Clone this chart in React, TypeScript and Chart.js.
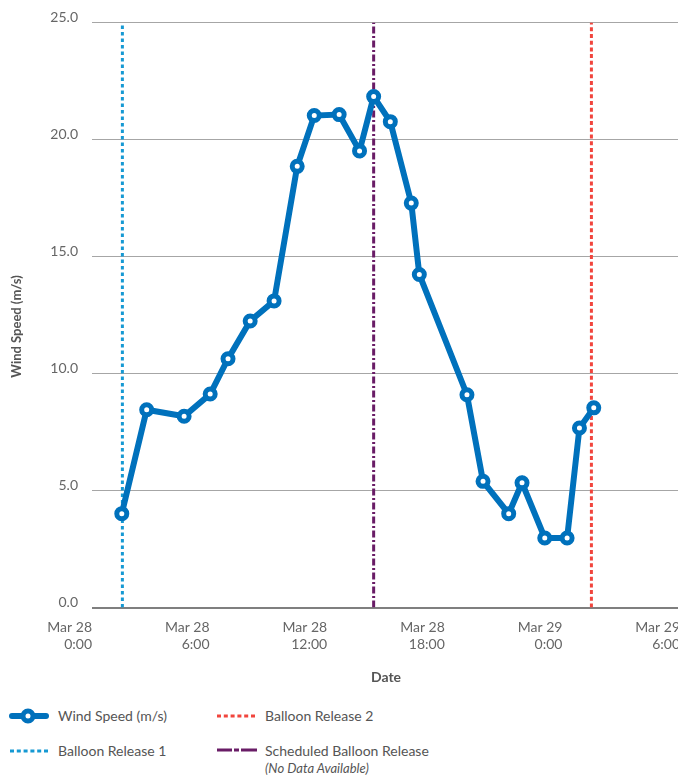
import React, { useEffect, useRef } from "react";
import { Chart, registerables } from "chart.js";

Chart.register(...registerables);

// Hours since Mar 28 0:00
const hoursSinceStart = [
  1.52, 2.79, 4.7, 6.03, 6.94, 8.07, 9.29, 10.47, 11.34, 12.61, 13.65, 14.37,
  15.22, 16.29, 16.7, 19.13, 19.95, 21.26, 21.94, 23.1, 24.24, 24.87, 25.6,
];
const windSpeed = [
  4.01, 8.45, 8.17, 9.12, 10.63, 12.24, 13.1, 18.85, 21.02, 21.06, 19.51, 21.83,
  20.76, 17.28, 14.23, 9.09, 5.39, 4.01, 5.33, 2.97, 2.97, 7.67, 8.53,
];
const balloonRelease1Hour = 1.55;
const balloonRelease2Hour = 25.48;
const scheduledReleaseHour = 14.37;

const xTickHours = [0, 6, 12, 18, 24, 30];
const yTickValues = [0, 5, 10, 15, 20, 25];
const dayNames = ["Mar 28", "Mar 29"];

const BLUE = "#0071bc";
const LIGHT_BLUE = "#1699d3";
const RED = "#f1453d";
const PURPLE = "#691c66";
const FONT = "Lato, 'Open Sans', sans-serif";

const yTitlePlugin = {
  id: "yTitle",
  afterDraw(chart: any) {
    const { ctx, chartArea } = chart;
    ctx.save();
    ctx.translate(chartArea.left - 75, (chartArea.top + chartArea.bottom) / 2 + 11.5);
    ctx.rotate(-Math.PI / 2);
    ctx.font = `bold 13px ${FONT}`;
    ctx.fillStyle = "#555";
    ctx.textAlign = "center";
    ctx.textBaseline = "middle";
    ctx.fillText("Wind Speed (m/s)", 0, 0);
    ctx.restore();
  },
};

function vline(label: string, hour: number, color: string, dash: number[]) {
  return {
    label,
    data: [
      { x: hour, y: yTickValues[0] },
      { x: hour, y: yTickValues[yTickValues.length - 1] },
    ],
    borderColor: color,
    borderWidth: 3,
    borderDash: dash,
    pointRadius: 0,
    order: 1,
  };
}

export default function App() {
  const ref = useRef<HTMLCanvasElement>(null);

  useEffect(() => {
    Chart.defaults.font.family = FONT;
    const chart = new Chart(ref.current!, {
      type: "line",
      data: {
        datasets: [
          {
            label: "Wind Speed (m/s)",
            data: hoursSinceStart.map((h, i) => ({ x: h, y: windSpeed[i] })),
            borderColor: BLUE,
            borderWidth: 6,
            pointRadius: 5,
            pointBorderWidth: 5,
            pointBackgroundColor: "#fff",
            pointBorderColor: BLUE,
            tension: 0,
            order: 0,
          },
          vline("Balloon Release 1", balloonRelease1Hour, LIGHT_BLUE, [3.5, 3]),
          vline("Balloon Release 2", balloonRelease2Hour, RED, [4, 2.7]),
          vline("Scheduled Balloon Release", scheduledReleaseHour, PURPLE, [7, 2.5, 2, 2.5]),
        ] as any,
      },
      options: {
        responsive: false,
        animation: false,
        layout: { padding: { left: 0, right: 0, top: 20.5, bottom: 0 } },
        plugins: { legend: { display: false }, tooltip: { enabled: false } },
        scales: {
          x: {
            type: "linear",
            min: xTickHours[0],
            max: xTickHours[xTickHours.length - 1],
            grid: { display: false, drawTicks: false },
            border: { display: false },
            afterBuildTicks: (s: any) => {
              s.ticks = xTickHours.map((v) => ({ value: v }));
            },
            ticks: {
              align: "end",
              padding: 12,
              maxRotation: 0,
              autoSkip: false,
              color: "#666",
              font: { size: 14 },
              callback: (v: any) => {
                const h = Number(v);
                return [dayNames[Math.floor(h / 24)], `${h % 24}:00`];
              },
            },
            title: {
              display: true,
              text: "Date",
              color: "#555",
              font: { size: 14, weight: "bold" },
              padding: { top: 0, bottom: 9.6 },
            },
            afterFit: (s: any) => {
              s.height = 87.5;
            },
          } as any,
          y: {
            min: yTickValues[0],
            max: yTickValues[yTickValues.length - 1],
            afterBuildTicks: (s: any) => {
              s.ticks = yTickValues.map((v) => ({ value: v }));
            },
            grid: {
              drawTicks: false,
              color: (c: any) => (c.tick && c.tick.value === 0 ? "#7f7f7f" : "#a6a6a6"),
              lineWidth: (c: any) => (c.tick && c.tick.value === 0 ? 2 : 1),
            },
            border: { display: false },
            ticks: {
              padding: 14,
              labelOffset: -5,
              color: "#666",
              font: { size: 14 },
              callback: (v: any) => Number(v).toFixed(1),
            },
            afterFit: (s: any) => {
              s.width = 92;
            },
          } as any,
        },
      },
      plugins: [yTitlePlugin],
    });
    return () => chart.destroy();
  }, []);

  const textStyle: React.CSSProperties = {
    position: "absolute",
    fontFamily: FONT,
    fontSize: 14,
    lineHeight: "17px",
    color: "#555",
    whiteSpace: "nowrap",
  };

  return (
    <div
      style={{
        position: "absolute",
        left: 0,
        top: 0,
        width: 678,
        height: 776,
        overflow: "hidden",
        background: "#fff",
      }}
    >
      <canvas
        ref={ref}
        width={692}
        height={695}
        style={{ position: "absolute", left: 0, top: 0, width: 692, height: 695 }}
      />
      {/* Legend */}
      <svg
        width={44}
        height={18}
        style={{ position: "absolute", left: 7, top: 707 }}
      >
        <line x1={5} y1={9} x2={39} y2={9} stroke={BLUE} strokeWidth={6} strokeLinecap="round" />
        <circle cx={21} cy={9} r={5} fill="#fff" stroke={BLUE} strokeWidth={5} />
      </svg>
      <span style={{ ...textStyle, left: 58, top: 707 }}>Wind Speed (m/s)</span>

      <svg width={44} height={10} style={{ position: "absolute", left: 10, top: 746 }}>
        <line x1={0} y1={5} x2={38} y2={5} stroke={LIGHT_BLUE} strokeWidth={3} strokeDasharray="4 2.8" />
      </svg>
      <span style={{ ...textStyle, left: 58, top: 742 }}>Balloon Release 1</span>

      <svg width={44} height={10} style={{ position: "absolute", left: 217, top: 711 }}>
        <line x1={0} y1={5} x2={39} y2={5} stroke={RED} strokeWidth={3} strokeDasharray="4 2.8" />
      </svg>
      <span style={{ ...textStyle, left: 265, top: 707 }}>Balloon Release 2</span>

      <svg width={44} height={10} style={{ position: "absolute", left: 217, top: 745 }}>
        <line x1={0} y1={5} x2={40} y2={5} stroke={PURPLE} strokeWidth={3} strokeDasharray="15 2 5 2 16" />
      </svg>
      <span style={{ ...textStyle, left: 265, top: 742 }}>Scheduled Balloon Release</span>
      <span style={{ ...textStyle, left: 265, top: 760, fontSize: 13, fontStyle: "italic" }}>
        (No Data Available)
      </span>
    </div>
  );
}
